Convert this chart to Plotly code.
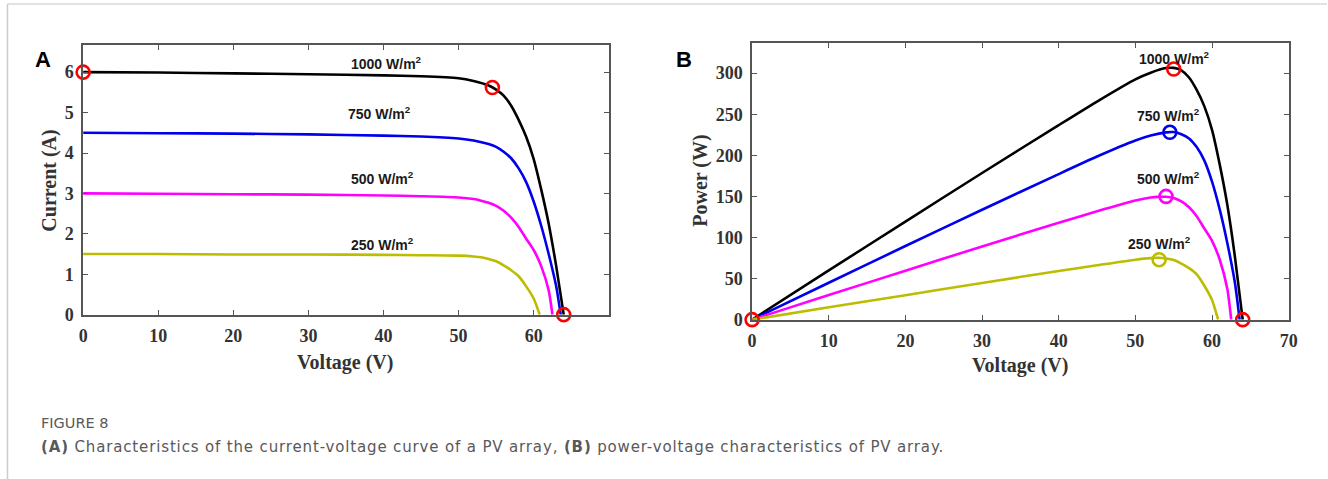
import plotly.graph_objects as go

# ---------------- data ----------------
irradiance_labels = ["1000 W/m<sup>2</sup>", "750 W/m<sup>2</sup>", "500 W/m<sup>2</sup>", "250 W/m<sup>2</sup>"]
colors = ["#000000", "#0000ee", "#ff00ff", "#bcbc00"]

v_1000 = [0, 10, 20, 30, 40, 45, 50, 52, 54, 55, 56, 57, 58, 59, 60, 61, 62, 63, 64]
i_1000 = [6.0, 5.99, 5.97, 5.95, 5.92, 5.9, 5.85, 5.78, 5.67, 5.57, 5.42, 5.17, 4.82, 4.4, 3.85, 3.1, 2.25, 1.2, 0.0]
p_1000 = [0, 59.9, 119.4, 178.5, 236.8, 265.5, 292.5, 300.6, 306.2, 306.4, 303.5, 294.7, 279.6, 259.6, 231, 189, 139.5, 75.6, 0]

v_750 = [0, 10, 20, 30, 40, 45, 50, 52, 54, 55, 56, 57, 58, 59, 60, 61, 62, 63, 63.6]
i_750 = [4.5, 4.49, 4.48, 4.46, 4.43, 4.41, 4.36, 4.31, 4.22, 4.15, 4.03, 3.87, 3.62, 3.28, 2.8, 2.2, 1.5, 0.7, 0.0]
p_750 = [0, 44.9, 89.6, 133.8, 177.2, 198.5, 218, 224.1, 227.9, 228.3, 225.7, 220.6, 210, 193.5, 168, 134.2, 93, 44.1, 0]

v_500 = [0, 10, 20, 30, 40, 45, 50, 52, 53, 54, 55, 56, 57, 58, 59, 60, 61, 62, 62.5]
i_500 = [3.0, 2.99, 2.98, 2.97, 2.95, 2.93, 2.9, 2.86, 2.82, 2.77, 2.69, 2.57, 2.4, 2.17, 1.88, 1.6, 1.2, 0.6, 0.0]
p_500 = [0, 29.9, 59.6, 89.1, 118, 131.9, 145, 148.7, 149.5, 149.6, 148, 143.9, 136.8, 125.9, 110.9, 96, 73.2, 37.2, 0]

v_250 = [0, 10, 20, 30, 40, 45, 50, 52, 53, 54, 55, 56, 57, 58, 59, 60, 60.8]
i_250 = [1.5, 1.5, 1.49, 1.49, 1.48, 1.47, 1.46, 1.44, 1.42, 1.38, 1.32, 1.22, 1.1, 0.95, 0.7, 0.4, 0.0]
p_250 = [0, 15, 29.8, 44.7, 59.2, 66.2, 73, 74.9, 75.3, 74.5, 72.6, 68.3, 62.7, 55.1, 41.3, 24, 0]

# highlighted points
iv_mark_v = [0, 54.5, 64.0]
iv_mark_i = [6.0, 5.62, 0.0]
pv_red_v = [0, 64.0]
pv_red_p = [0, 0]
mpp_v = [55.0, 54.5, 54.0, 53.1]
mpp_p = [305, 228, 150, 73]

# label anchor positions (data units)
iv_label_v = [40.4, 39.5, 39.9, 39.9]
iv_label_i = [6.22, 4.98, 3.37, 1.76]
pv_label_v = [55.1, 54.3, 54.3, 53.1]
pv_label_p = [319, 249, 173, 93]

x_ticks_a = [0, 10, 20, 30, 40, 50, 60]
y_ticks_a = [0, 1, 2, 3, 4, 5, 6]
x_ticks_b = [0, 10, 20, 30, 40, 50, 60, 70]
y_ticks_b = [0, 50, 100, 150, 200, 250, 300]

# ---------------- figure ----------------
RW, RH = 1328, 479          # reference pixel space used for placement
W, H = 1336, 490            # figure size (page capture area is slightly larger than the window)
DX = -3.5                   # small horizontal correction of the capture
fig = go.Figure()

iv = [(v_1000, i_1000), (v_750, i_750), (v_500, i_500), (v_250, i_250)]
pv = [(v_1000, p_1000), (v_750, p_750), (v_500, p_500), (v_250, p_250)]

for (v, i), c in zip(iv, colors):
    fig.add_trace(go.Scatter(x=v, y=i, mode="lines", line=dict(color=c, width=2.6, shape="spline", smoothing=0.6),
                             xaxis="x", yaxis="y", showlegend=False, hoverinfo="skip", cliponaxis=False))
for (v, p), c in zip(pv, colors):
    fig.add_trace(go.Scatter(x=v, y=p, mode="lines", line=dict(color=c, width=2.6, shape="spline", smoothing=0.6),
                             xaxis="x2", yaxis="y2", showlegend=False, hoverinfo="skip", cliponaxis=False))

red_marker = dict(symbol="circle-open", size=13, color="#ff0000", line=dict(width=2.6, color="#ff0000"))
fig.add_trace(go.Scatter(x=iv_mark_v, y=iv_mark_i, mode="markers", xaxis="x", yaxis="y", showlegend=False,
                         cliponaxis=False, marker=red_marker))
fig.add_trace(go.Scatter(x=pv_red_v, y=pv_red_p, mode="markers", xaxis="x2", yaxis="y2", showlegend=False,
                         cliponaxis=False, marker=red_marker))
mpp_colors = ["#ff0000", colors[1], colors[2], colors[3]]
fig.add_trace(go.Scatter(x=mpp_v, y=mpp_p, mode="markers", xaxis="x2", yaxis="y2", showlegend=False,
                         cliponaxis=False,
                         marker=dict(symbol="circle-open", size=13, color=mpp_colors,
                                     line=dict(width=2.6, color=mpp_colors))))

tickfont = dict(family="Liberation Serif", size=18, color="#333333", weight="bold")
axis_common = dict(showgrid=False, zeroline=False, showline=True, linecolor="#555555", linewidth=1.5,
                   mirror="ticks", ticks="inside", ticklen=5, tickwidth=1.2, tickcolor="#555555",
                   tickfont=tickfont)


def fx(a):
    return (a + DX) / RW


def fy(b):
    return 1 - b / RH


fig.update_layout(
    width=W, height=H,
    margin=dict(l=0, r=0, t=0, b=0),
    paper_bgcolor="white", plot_bgcolor="white",
    xaxis=dict(domain=[fx(82), fx(610)], range=[0, 70], tickmode="array", tickvals=x_ticks_a,
               anchor="y", ticklabelstandoff=4, **axis_common),
    yaxis=dict(domain=[fy(314), fy(45)], range=[0, 6.67], tickmode="array", tickvals=y_ticks_a,
               anchor="x", ticklabelstandoff=4, **axis_common),
    xaxis2=dict(domain=[fx(754), fx(1293)], range=[0, 70], tickmode="array", tickvals=x_ticks_b,
                anchor="y2", ticklabelstandoff=4, **axis_common),
    yaxis2=dict(domain=[fy(319), fy(43)], range=[0, 336.6], tickmode="array", tickvals=y_ticks_b,
                anchor="x2", ticklabelstandoff=4, **axis_common),
)

ann = []
lab_font = dict(family="Liberation Sans", size=14, color="#1a1a1a")
for t, x, y in zip(irradiance_labels, iv_label_v, iv_label_i):
    ann.append(dict(text="<b>" + t + "</b>", x=x, y=y, xref="x", yref="y", showarrow=False, font=lab_font))
for t, x, y in zip(irradiance_labels, pv_label_v, pv_label_p):
    ann.append(dict(text="<b>" + t + "</b>", x=x, y=y, xref="x2", yref="y2", showarrow=False, font=lab_font))

title_font = dict(family="Liberation Serif", size=20, color="#333333", weight="bold")


def pa(text, x, y, font, angle=0, xanchor="center", yanchor="middle", align="center"):
    return dict(text=text, x=fx(x), y=fy(y), xref="paper", yref="paper", showarrow=False,
                font=font, textangle=angle, xanchor=xanchor, yanchor=yanchor, align=align)


ann.append(pa("Current (A)", 48, 180, title_font, angle=-90))
ann.append(pa("Voltage (V)", 345, 362, title_font))
ann.append(pa("Power (W)", 702, 180, title_font, angle=-90))
ann.append(pa("Voltage (V)", 1023, 365, title_font))

panel_font = dict(family="Liberation Sans", size=22, color="#000000", weight="bold")
ann.append(pa("A", 42, 59, panel_font))
ann.append(pa("B", 686, 59, panel_font))

cap_color = "#58595b"
ann.append(pa("FIGURE 8", 38, 422, dict(family="DejaVu Sans", size=14.5, color=cap_color),
              xanchor="left", align="left"))
ann.append(pa("<b>(A)</b> Characteristics of the current-voltage curve of a PV array, <b>(B)</b> power-voltage "
              "characteristics of PV array.", 38, 446, dict(family="DejaVu Sans", size=15, color=cap_color),
              xanchor="left", align="left"))

fig.update_layout(annotations=ann)

fig.update_layout(shapes=[
    dict(type="line", xref="paper", yref="paper", x0=fx(6), x1=1, y0=fy(4), y1=fy(4),
         line=dict(color="#d9d9d9", width=1.5)),
    dict(type="line", xref="paper", yref="paper", x0=fx(6), x1=fx(6), y0=0, y1=fy(4),
         line=dict(color="#cccccc", width=1.5)),
])

post = (
    "var gd=document.getElementById('{plot_id}');"
    "document.documentElement.style.margin='0';document.documentElement.style.overflow='hidden';"
    "document.body.style.margin='0';document.body.style.overflow='hidden';"
    "gd.style.position='absolute';gd.style.left='0px';gd.style.top='0px';"
    "var ts=gd.querySelectorAll('.annotation-text');"
    "for(var k=0;k<ts.length;k++){if(ts[k].textContent.indexOf('Characteristics')>=0){"
    "ts[k].style.letterSpacing='0.85px';}}"
)
fig.write_html("out.html", config={"displayModeBar": False}, post_script=post)
